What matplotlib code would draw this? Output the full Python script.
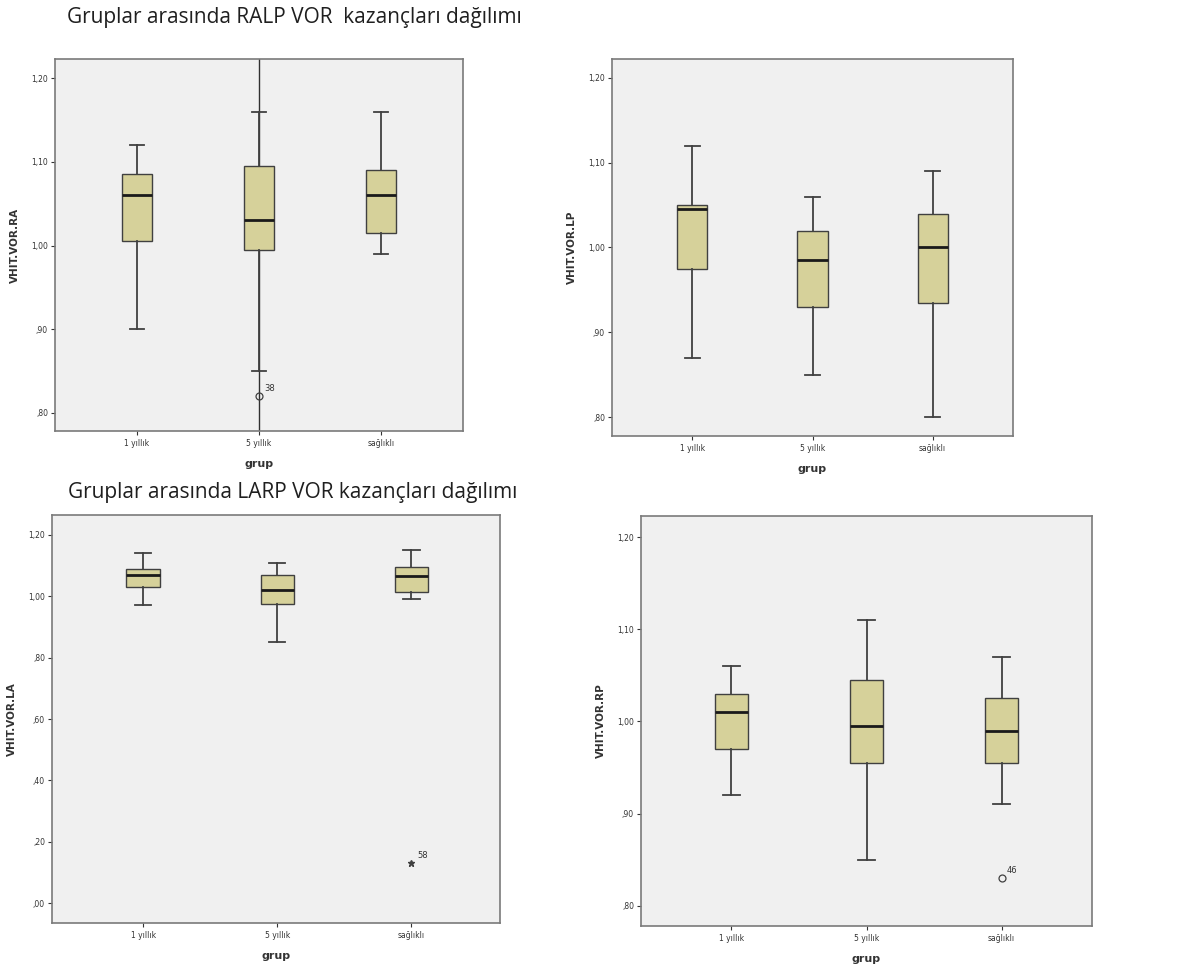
import matplotlib
matplotlib.use("Agg")
import matplotlib.pyplot as plt
from matplotlib.ticker import FuncFormatter

groups = ["1 yıllık", "5 yıllık", "sağlıklı"]

# RA panel: whisker low, Q1, median, Q3, whisker high
ra_lo = [0.90, 0.85, 0.99]
ra_q1 = [1.005, 0.995, 1.015]
ra_med = [1.06, 1.03, 1.06]
ra_q3 = [1.085, 1.095, 1.09]
ra_hi = [1.12, 1.16, 1.16]
ra_out = [[], [0.82], []]
ra_out_lbl = [[], ["38"], []]

lp_lo = [0.87, 0.85, 0.80]
lp_q1 = [0.975, 0.93, 0.935]
lp_med = [1.045, 0.985, 1.00]
lp_q3 = [1.05, 1.02, 1.04]
lp_hi = [1.12, 1.06, 1.09]
lp_out = [[], [], []]
lp_out_lbl = [[], [], []]

la_lo = [0.97, 0.85, 0.99]
la_q1 = [1.03, 0.975, 1.015]
la_med = [1.07, 1.02, 1.065]
la_q3 = [1.09, 1.07, 1.095]
la_hi = [1.14, 1.11, 1.15]
la_ext = [[], [], [0.13]]
la_ext_lbl = [[], [], ["58"]]

rp_lo = [0.92, 0.85, 0.91]
rp_q1 = [0.97, 0.955, 0.955]
rp_med = [1.01, 0.995, 0.99]
rp_q3 = [1.03, 1.045, 1.025]
rp_hi = [1.06, 1.11, 1.07]
rp_out = [[], [], [0.83]]
rp_out_lbl = [[], [], ["46"]]

ylabels = ["VHIT.VOR.RA", "VHIT.VOR.LP", "VHIT.VOR.LA", "VHIT.VOR.RP"]
title1 = "Gruplar arasında RALP VOR  kazançları dağılımı"
title2 = "Gruplar arasında LARP VOR kazançları dağılımı"

BOX = "#D6D19A"
EDGE = "#404040"
BG = "#F0F0F0"
FRAME = "#7A7A7A"

W, H = 1177, 974
fig = plt.figure(figsize=(W / 100, H / 100), dpi=100)
fig.patch.set_facecolor("white")


def ax_at(x0, y0, x1, y1):
    return fig.add_axes([x0 / W, 1 - y1 / H, (x1 - x0) / W, (y1 - y0) / H])


def fmt(v, pos):
    s = f"{v:.2f}".replace(".", ",")
    if s.startswith("0,"):
        s = s[1:]
    return s


def panel(ax, lo, q1, med, q3, hi, outs, out_lbls, ylim, yticks, ylabel,
          marker="o", xlim=(-0.67, 2.67)):
    stats = []
    for i in range(len(groups)):
        stats.append(dict(whislo=lo[i], q1=q1[i], med=med[i], q3=q3[i],
                          whishi=hi[i], fliers=[], label=groups[i]))
    ax.bxp(stats, positions=range(len(groups)), widths=0.25, patch_artist=True,
           showfliers=False,
           boxprops=dict(facecolor=BOX, edgecolor=EDGE, linewidth=1.0),
           medianprops=dict(color="#1A1A1A", linewidth=2.0),
           whiskerprops=dict(color=EDGE, linewidth=1.3),
           capprops=dict(color=EDGE, linewidth=1.3),
           capwidths=0.12)
    for i, (ov, ol) in enumerate(zip(outs, out_lbls)):
        for v, l in zip(ov, ol):
            if marker == "o":
                ax.plot(i, v, marker="o", ms=5, mfc="none", mec=EDGE, mew=0.9,
                        zorder=5)
            else:
                ax.plot(i, v, marker="*", ms=5, color=EDGE, zorder=5)
            ax.annotate(l, (i, v), xytext=(4, 4), textcoords="offset points",
                        fontsize=6, color="#333333")
    ax.set_facecolor(BG)
    ax.set_xlim(*xlim)
    ax.set_ylim(*ylim)
    ax.set_yticks(yticks)
    ax.yaxis.set_major_formatter(FuncFormatter(fmt))
    ax.tick_params(axis="both", labelsize=5.5, colors="#333333", length=3,
                   width=0.8, pad=2)
    ax.tick_params(axis="x", pad=3)
    for sp in ax.spines.values():
        sp.set_color(FRAME)
        sp.set_linewidth(1.2)
    ax.set_ylabel(ylabel, fontsize=7.5, fontweight="bold", color="#333333",
                  labelpad=8)
    ax.set_xlabel("grup", fontsize=8, fontweight="bold", color="#333333",
                  labelpad=8)


ax1 = ax_at(55, 59, 463, 431)
panel(ax1, ra_lo, ra_q1, ra_med, ra_q3, ra_hi, ra_out, ra_out_lbl,
      (0.7785, 1.2227), [0.8, 0.9, 1.0, 1.1, 1.2], ylabels[0])
ax1.axvline(1, color="#303030", linewidth=1.0, zorder=1)

ax2 = ax_at(612, 59, 1013, 436)
panel(ax2, lp_lo, lp_q1, lp_med, lp_q3, lp_hi, lp_out, lp_out_lbl,
      (0.7776, 1.2224), [0.8, 0.9, 1.0, 1.1, 1.2], ylabels[1])

ax3 = ax_at(52, 515, 500, 923)
panel(ax3, la_lo, la_q1, la_med, la_q3, la_hi, la_ext, la_ext_lbl,
      (-0.065, 1.265), [0.0, 0.2, 0.4, 0.6, 0.8, 1.0, 1.2], ylabels[2],
      marker="*", xlim=(-0.68, 2.66))

ax4 = ax_at(641, 516, 1092, 926)
panel(ax4, rp_lo, rp_q1, rp_med, rp_q3, rp_hi, rp_out, rp_out_lbl,
      (0.778, 1.2228), [0.8, 0.9, 1.0, 1.1, 1.2], ylabels[3])

fig.text(67 / W, 1 - 18 / H, title1, fontsize=15, family="Open Sans",
         color="#1F1F1F", va="center", ha="left")
fig.text(68 / W, 1 - 492 / H, title2, fontsize=15, family="Open Sans",
         color="#1F1F1F", va="center", ha="left")

fig.savefig("out.png", dpi=100)
